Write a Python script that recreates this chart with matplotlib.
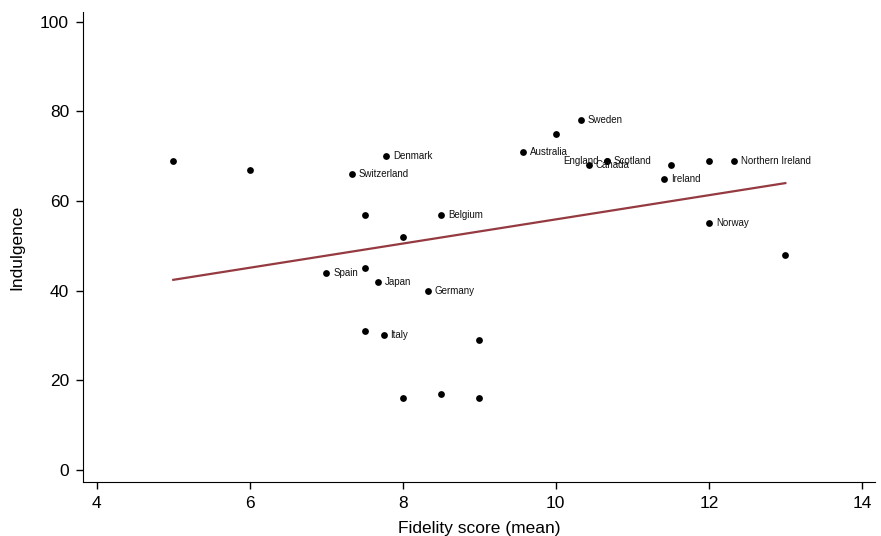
import matplotlib
matplotlib.use("Agg")
import matplotlib.pyplot as plt
import numpy as np

plt.rcParams['font.family'] = ['Liberation Sans', 'DejaVu Sans']

fidelity = [5.0, 6.0, 7.33, 7.78, 7.5, 8.5, 8.0, 7.0, 7.5, 7.67, 8.33, 7.5, 7.75, 9.0,
            8.0, 8.5, 9.0, 9.57, 10.0, 10.33, 10.67, 10.67, 10.43, 11.5, 11.42, 12.0,
            12.33, 12.0, 13.0]
indulgence = [69, 67, 66, 70, 57, 57, 52, 44, 45, 42, 40, 31, 30, 29,
              16, 17, 16, 71, 75, 78, 69, 69, 68, 68, 65, 69,
              69, 55, 48]
labels = ["", "", "Switzerland", "Denmark", "", "Belgium", "", "Spain", "", "Japan",
          "Germany", "", "Italy", "", "", "", "", "Australia", "", "Sweden", "England",
          "Scotland", "Canada", "", "Ireland", "", "Northern Ireland", "Norway", ""]
label_left = ["England"]

x_ticks = [4, 6, 8, 10, 12, 14]
y_ticks = [0, 20, 40, 60, 80, 100]

fig = plt.figure(figsize=(8.81, 5.36), dpi=100)
ax = fig.add_axes([0.0942, 0.1007, 0.8988, 0.877])

x = np.array(fidelity)
y = np.array(indulgence)
ax.scatter(x, y, s=24, color='black', zorder=3, linewidths=0)
for xi, yi, lab in zip(x, y, labels):
    if not lab:
        continue
    if lab in label_left:
        ax.annotate(lab, (xi, yi), xytext=(-6, 0), textcoords='offset points',
                    ha='right', va='center', fontsize=7, color='#111111')
    else:
        ax.annotate(lab, (xi, yi), xytext=(5, 0), textcoords='offset points',
                    ha='left', va='center', fontsize=7, color='#111111')

b, a = np.polyfit(x, y, 1)
xs = np.array([x.min(), x.max()])
ax.plot(xs, a + b * xs, color='#943a40', lw=1.6, zorder=2)

ax.set_xlim(3.82, 14.17)
ax.set_ylim(-2.7, 102.2)
ax.set_xticks(x_ticks)
ax.set_yticks(y_ticks)
ax.tick_params(labelsize=12.5, length=5, width=1, direction='out', pad=5)
ax.spines['top'].set_visible(False)
ax.spines['right'].set_visible(False)
ax.set_xlabel('Fidelity score (mean)', fontsize=12.5, labelpad=7)
ax.set_ylabel('Indulgence', fontsize=12.5, labelpad=11)

fig.savefig('out.png', dpi=100)
